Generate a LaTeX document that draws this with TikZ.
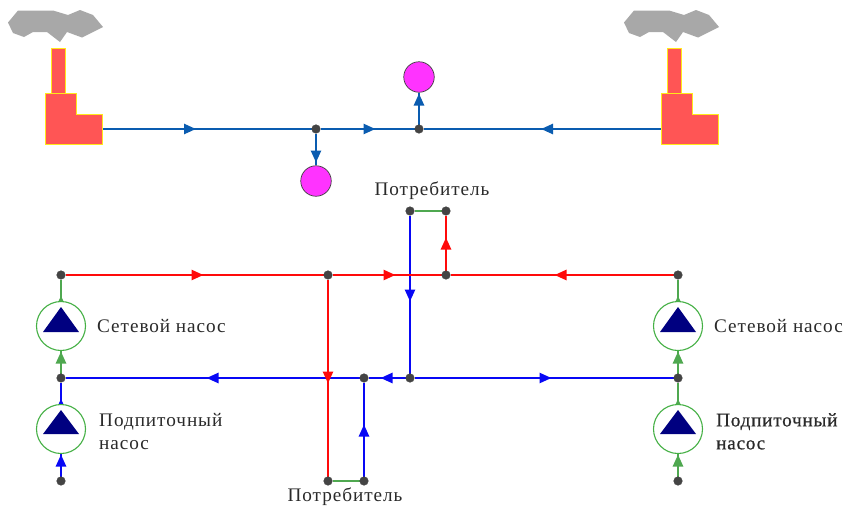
\documentclass[tikz,border=0pt]{standalone}
\usepackage{fontspec}
\setmainfont{Liberation Serif}[LetterSpace=5]
\newfontfamily\boldishfont{Liberation Serif}[LetterSpace=4,FakeBold=0.6]
\usetikzlibrary{arrows.meta,decorations.markings,backgrounds}
\definecolor{pipeTop}{HTML}{0A5CB0}
\definecolor{pipeRed}{HTML}{FF0A0A}
\definecolor{pipeBlue}{HTML}{0808F5}
\definecolor{pipeGreen}{HTML}{4FA850}
\definecolor{dotGrey}{HTML}{444444}
\definecolor{plant}{HTML}{FF5555}
\definecolor{plantEdge}{HTML}{FFE81A}
\definecolor{smoke}{HTML}{A8A8A8}
\definecolor{consumer}{HTML}{FF33FF}
\definecolor{pumpRing}{HTML}{45B045}
\definecolor{pumpTri}{HTML}{000080}
\definecolor{txt}{HTML}{2A2A2A}
\tikzset{
  x=1pt,y=-1pt,
  dot/.style={circle,fill=dotGrey,draw=dotGrey,inner sep=0pt,minimum size=8.6pt,line width=0.4pt},
  sink/.style={circle,fill=consumer,draw=black!75,line width=0.7pt,minimum size=30.5pt,inner sep=0pt},
  pump/.style={circle,fill=white,draw=pumpRing,line width=1.1pt,minimum size=49pt,inner sep=0pt},
  pipe/.style={line width=2.5pt},
  flow/.style={decoration={markings,mark=at position #1pt with {\arrow{Triangle[length=12pt,width=10pt]}}},postaction={decorate}},
  smallflow/.style={decoration={markings,mark=at position #1pt with {\arrow{Triangle[length=8pt,width=7pt]}}},postaction={decorate}},
  lab/.style={text=txt,font=\fontsize{19.2}{23}\selectfont,inner sep=0pt,align=left},
  factory/.pic={
    \fill[smoke] (8,22.5)--(18,10.5)--(53,10.5)--(68,15)--(80,10)--(93,15)--(103,27)--(82,37.5)--(67,32)--(60,42)--(47,32)--(33,32)--(24,37)--(13,33)--cycle;
    \draw[fill=plant,draw=plantEdge,line width=1pt] (51,48)--(65,48)--(65,93)--(51,93)--cycle;
    \draw[fill=plant,draw=plantEdge,line width=1pt] (45,93)--(76,93)--(76,114)--(102,114)--(102,144)--(45,144)--cycle;
  },
}
\begin{document}
\begin{tikzpicture}
\useasboundingbox (0,0) rectangle (845,509);
% plants
\pic at (0,0) {factory};
\pic at (616,0) {factory};
\coordinate (plantL) at (102,129);
\coordinate (plantR) at (661,129);
% upper scheme
\node[dot] (u1) at (316,129) {};
\node[dot] (u2) at (419,129) {};
\node[sink] (c1) at (316,181) {};
\node[sink] (c2) at (419,77) {};
% lower scheme nodes
\node[dot] (rL) at (61,275) {};
\node[dot] (rA) at (328,275) {};
\node[dot] (rB) at (446,275) {};
\node[dot] (rR) at (678,275) {};
\node[dot] (tA) at (410,211) {};
\node[dot] (tB) at (446,211) {};
\node[dot] (bL) at (61,378) {};
\node[dot] (bC) at (364,378) {};
\node[dot] (bD) at (410,378) {};
\node[dot] (bR) at (678,378) {};
\node[dot] (dA) at (328,481) {};
\node[dot] (dB) at (364,481) {};
\node[dot] (sL) at (61,481) {};
\node[dot] (sR) at (678,481) {};
\node[pump] (p1) at (61,326) {};
\node[pump] (p2) at (61,429) {};
\node[pump] (p3) at (678,326) {};
\node[pump] (p4) at (678,429) {};
\foreach \p/\b in {p1/6,p3/6,p2/5,p4/5}
  \fill[pumpTri] ([shift={(0,-19)}]\p.center) -- ([shift={(18,\b)}]\p.center) -- ([shift={(-18,\b)}]\p.center) -- cycle;
\begin{pgfonlayer}{background}
  \fill[white] (0,0) rectangle (845,509);
  \begin{scope}[pipe,color=pipeTop]
    \draw[flow=94] (plantL) -- (u1);
    \draw[flow=55] (u1) -- (u2);
    \draw[flow=120] (plantR) -- (u2);
    \draw[flow=29] (u1) -- (c1);
    \draw[flow=31] (u2) -- (c2);
  \end{scope}
  \begin{scope}[pipe,color=pipeBlue]
    \draw[flow=86] (tA) -- (bD);
    \draw[flow=52] (dB) -- (bC);
    \draw[flow=25] (bD) -- (bC);
    \draw[flow=153] (bC) -- (bL);
    \draw[flow=137] (bD) -- (bR);
    \draw[smallflow=5] (p2) -- (bL);
    \draw[flow=22] (sL) -- (p2);
  \end{scope}
  \begin{scope}[pipe,color=pipeRed]
    \draw[flow=138] (rL) -- (rA);
    \draw[flow=63] (rA) -- (rB);
    \draw[flow=119] (rR) -- (rB);
    \draw[flow=33] (rB) -- (tB);
    \draw[flow=104] (rA) -- (dA);
  \end{scope}
  \begin{scope}[pipe,color=pipeGreen]
    \draw (tA) -- (tB);
    \draw (dA) -- (dB);
    \draw[smallflow=5] (p1) -- (rL);
    \draw[flow=22] (bL) -- (p1);
    \draw[smallflow=5] (p3) -- (rR);
    \draw[flow=22] (bR) -- (p3);
    \draw[smallflow=5] (p4) -- (bR);
    \draw[flow=22] (sR) -- (p4);
  \end{scope}
\end{pgfonlayer}
% labels
\node[lab] (t1) at (432,191) {Потребитель};
\node[lab] (t2) at (345,496.5) {Потребитель};
\node[lab,anchor=west] (t3) at (97,326) {Сетевой насос};
\node[lab,anchor=west] (t4) at (714,326) {Сетевой насос};
\node[lab,anchor=north west] (t5) at (99,413) {Подпиточный\\насос};
\node[lab,anchor=north west,font=\fontsize{19.2}{23}\selectfont\boldishfont] (t6) at (716,413) {Подпиточный\\насос};
\end{tikzpicture}
\end{document}
